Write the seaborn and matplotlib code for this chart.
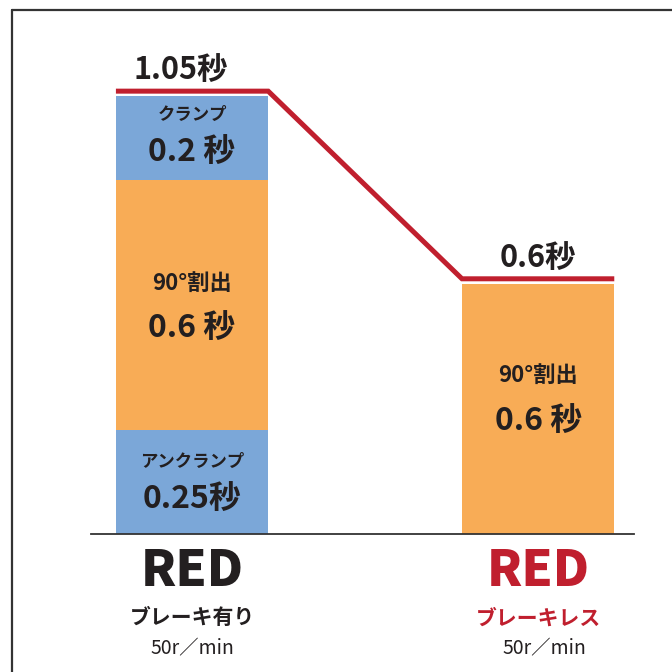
import numpy as np
import pandas as pd
import matplotlib
matplotlib.use("Agg")
import matplotlib.pyplot as plt
from matplotlib.lines import Line2D
import seaborn as sns

# Data
bars = ['ブレーキ有り', 'ブレーキレス']
totals = [1.05, 0.6]
total_labels = ['1.05秒', '0.6秒']
seg_bar = ['ブレーキ有り', 'ブレーキ有り', 'ブレーキ有り', 'ブレーキレス']
seg_height = [0.25, 0.6, 0.2, 0.6]
seg_kind = ['clamp', 'index', 'clamp', 'index']
seg_name = ['アンクランプ', '90°割出', 'クランプ', '90°割出']
seg_value = ['0.25秒', '0.6 秒', '0.2 秒', '0.6 秒']
brand = ['RED', 'RED']
speed = ['50r／min', '50r／min']

# Styling
sns.set_style('white')
plt.rcParams['font.family'] = ['Noto Sans CJK JP', 'DejaVu Sans']
blue = '#7BA7D8'
orange = '#F8AC56'
red = '#C01F2E'
ink = '#231F20'
colors = {'clamp': blue, 'index': orange}
name_size = {'clamp': 12.5, 'index': 16}
brand_colors = [ink, red]

df = pd.DataFrame({'bar': seg_bar, 'height': seg_height, 'kind': seg_kind,
                   'name': seg_name, 'value': seg_value})
df['bottom'] = df.groupby('bar')['height'].cumsum() - df['height']
df['top'] = df['bottom'] + df['height']
df['mid'] = df['bottom'] + df['height'] / 2

fig = plt.figure(figsize=(6.72, 6.72), dpi=100)
ax = fig.add_axes([91 / 672, 138 / 672, 543 / 672, 524 / 672])

bw = 0.44
# draw stacked segments from the top down so lower ones cover upper ones
for _, row in df.sort_values('top', ascending=False).iterrows():
    sns.barplot(x=[row['bar']], y=[row['top']], order=bars, color=colors[row['kind']],
                saturation=1, width=bw, linewidth=0, ax=ax)

# red total line
pos = np.arange(len(bars))
off = 0.012
lx, ly = [], []
for p, t in zip(pos, totals):
    lx += [p - bw / 2, p + bw / 2]
    ly += [t + off, t + off]
ax.plot(lx, ly, color=red, linewidth=3.6, solid_joinstyle='miter', solid_capstyle='butt',
        clip_on=False, zorder=5)

# total labels
for p, t, lab in zip(pos, totals, total_labels):
    dx = -0.032 if p == 0 else 0.0
    ax.text(p + dx, t + 0.062, lab, ha='center', va='center', fontsize=22,
            fontweight='bold', color=ink)

# segment labels
name_dy = [0.047, 0.052, 0.054, 0.081]
value_dy = [-0.044, -0.059, -0.037, -0.031]
for i, row in df.iterrows():
    p = bars.index(row['bar'])
    ax.text(p, row['mid'] + name_dy[i], row['name'], ha='center', va='center',
            fontsize=name_size[row['kind']], fontweight='bold', color=ink)
    ax.text(p, row['mid'] + value_dy[i], row['value'], ha='center', va='center',
            fontsize=23, fontweight='bold', color=ink)

# category labels under the bars
for p, b, s, c, bc in zip(pos, brand, bars, speed, brand_colors):
    ax.text(p, -0.088, b, ha='center', va='center', fontsize=36, fontweight='black',
            color=bc)
    ax.text(p, -0.201, s, ha='center', va='center', fontsize=15, fontweight='bold',
            color=bc)
    ax.text(p + (0.018 if p == 1 else 0), -0.275, c, ha='center', va='center',
            fontsize=14, color=ink)

ax.set_xlim(-0.292, 1.277)
ax.set_ylim(0, 1.2566)
ax.set_xticks([])
ax.set_yticks([])
ax.set_xlabel('')
ax.set_ylabel('')
for s in ['top', 'right', 'left']:
    ax.spines[s].set_visible(False)
ax.spines['bottom'].set_color('#333333')
ax.spines['bottom'].set_linewidth(1.3)
ax.patch.set_alpha(0)

# outer frame (left and top edges)
fx = 12 / 672
fy = 1 - 10 / 672
fig.add_artist(Line2D([fx, fx], [0, fy], transform=fig.transFigure, color='#333333', lw=1.6))
fig.add_artist(Line2D([fx, 1], [fy, fy], transform=fig.transFigure, color='#333333', lw=1.6))

fig.savefig('out.png', dpi=100)
